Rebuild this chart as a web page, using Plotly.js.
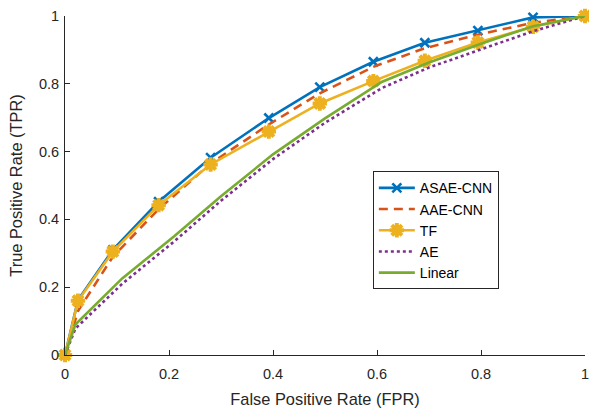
<!DOCTYPE html>
<html><head><meta charset="utf-8">
<script src="https://cdn.plot.ly/plotly-3.0.1.min.js"></script>
<style>html,body{margin:0;padding:0;background:#fff}#chart{width:589px;height:409px}</style>
</head><body><div id="chart"></div>
<script>
const fprMarked = [0, 0.025, 0.092, 0.18, 0.28, 0.392, 0.49, 0.593, 0.692, 0.794, 0.9, 1];
const asaeCnn = [0, 0.162, 0.31, 0.452, 0.582, 0.699, 0.79, 0.865, 0.921, 0.957, 0.996, 1];
const aaeCnn  = [0, 0.13, 0.29, 0.43, 0.565, 0.68, 0.772, 0.85, 0.905, 0.945, 0.98, 1];
const tf      = [0, 0.16, 0.305, 0.442, 0.562, 0.659, 0.742, 0.808, 0.868, 0.922, 0.968, 1];
const fprSmooth = [0, 0.02, 0.11, 0.21, 0.3, 0.4, 0.5, 0.61, 0.7, 0.8, 0.9, 1];
const ae      = [0, 0.078, 0.21, 0.335, 0.455, 0.578, 0.685, 0.788, 0.848, 0.902, 0.955, 1];
const linear  = [0, 0.09, 0.226, 0.35, 0.468, 0.592, 0.698, 0.806, 0.863, 0.918, 0.97, 1];
const tickVals = [0, 0.2, 0.4, 0.6, 0.8, 1];
const tickText = ['0', '0.2', '0.4', '0.6', '0.8', '1'];

const traces = [
  {x: fprMarked, y: asaeCnn, name: 'ASAE-CNN', mode: 'lines+markers', cliponaxis: false,
   line: {color: '#0072BD', width: 2.6},
   marker: {symbol: 'x-thin-open', size: 9, line: {color: '#0072BD', width: 2.6}, color: '#0072BD'}},
  {x: fprMarked, y: aaeCnn, name: 'AAE-CNN', mode: 'lines', cliponaxis: false,
   line: {color: '#D95319', width: 2.6, dash: '9px,6px'}},
  {x: fprMarked, y: tf, name: 'TF', mode: 'lines+markers', cliponaxis: false,
   line: {color: '#EDB120', width: 2.6},
   marker: {symbol: 'asterisk-open', size: 12, line: {color: '#EDB120', width: 4}, color: '#EDB120'}},
  {x: fprSmooth, y: ae, name: 'AE', mode: 'lines', cliponaxis: false,
   line: {color: '#7E2F8E', width: 2.6, dash: 'dot'}},
  {x: fprSmooth, y: linear, name: 'Linear', mode: 'lines', cliponaxis: false,
   line: {color: '#77AC30', width: 2.6}}
];

const axisCommon = {
  range: [0, 1], tickvals: tickVals, ticktext: tickText,
  ticks: 'inside', ticklen: 5, tickcolor: '#262626', tickwidth: 1,
  showline: true, linecolor: '#262626', linewidth: 1, mirror: false,
  showgrid: false, zeroline: false, ticklabeloverflow: 'allow',
  tickfont: {family: 'Liberation Sans, Arial, sans-serif', size: 14.5, color: '#262626'}
};

const layout = {
  width: 589, height: 409,
  margin: {l: 65, r: 4, t: 16, b: 54},
  paper_bgcolor: '#fff', plot_bgcolor: '#fff',
  font: {family: 'Liberation Sans, Arial, sans-serif', color: '#262626'},
  xaxis: Object.assign({}, axisCommon, {
    ticklabelstandoff: 6,
    title: {text: 'False Positive Rate (FPR)', font: {size: 16.4, color: '#262626'}, standoff: 12}
  }),
  yaxis: Object.assign({}, axisCommon, {
    ticklabelstandoff: 2,
    title: {text: 'True Positive Rate (TPR)', font: {size: 16.4, color: '#262626'}, standoff: 12}
  }),
  legend: {
    x: 0.592, y: 0.542, xanchor: 'left', yanchor: 'top',
    bgcolor: '#fff', bordercolor: '#262626', borderwidth: 1,
    font: {size: 14, color: '#000'}, tracegroupgap: 0, itemwidth: 36
  },
  showlegend: true
};

Plotly.newPlot('chart', traces, layout, {displayModeBar: false, staticPlot: true});
</script></body></html>
